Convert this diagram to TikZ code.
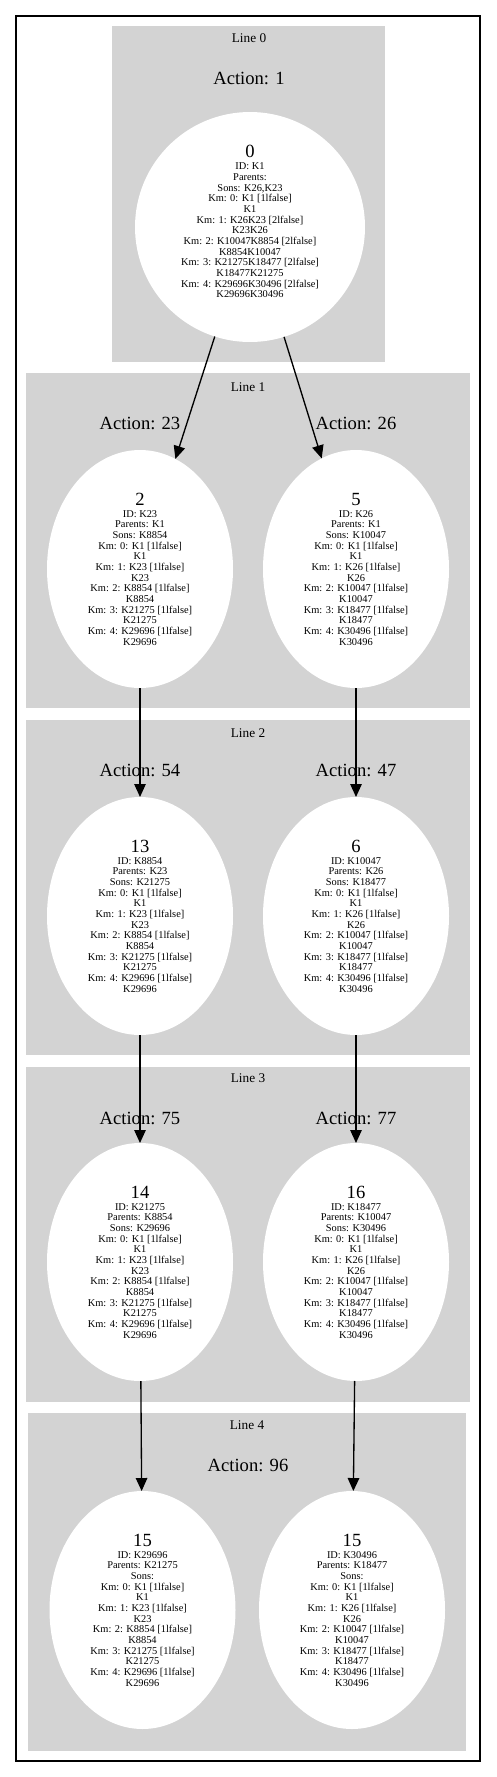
\documentclass[tikz,border=0pt]{standalone}
\usepackage{fontspec}
\setmainfont{Liberation Serif}
\usetikzlibrary{arrows.meta,shapes.geometric}
\definecolor{clustergray}{HTML}{D3D3D3}
\newcommand{\kmL}{Km: 0: K1 [1lfalse]\\K1\\Km: 1: K23 [1lfalse]\\K23\\Km: 2: K8854 [1lfalse]\\K8854\\Km: 3: K21275 [1lfalse]\\K21275\\Km: 4: K29696 [1lfalse]\\K29696}
\newcommand{\kmR}{Km: 0: K1 [1lfalse]\\K1\\Km: 1: K26 [1lfalse]\\K26\\Km: 2: K10047 [1lfalse]\\K10047\\Km: 3: K18477 [1lfalse]\\K18477\\Km: 4: K30496 [1lfalse]\\K30496}
\newcommand{\bignum}[1]{{\fontsize{18.6}{18.6}\selectfont #1}\\[1.3pt]}
\begin{document}
\begin{tikzpicture}[x=1pt,y=-1pt,
  cluster/.style={fill=clustergray,draw=none},
  linelabel/.style={font=\fontsize{13.3}{14}\selectfont,inner sep=0pt},
  action/.style={font=\fontsize{18.6}{20}\selectfont,inner sep=0pt},
  state/.style={ellipse,fill=white,draw=none,inner sep=0pt,outer sep=0pt,
    minimum width=186pt,minimum height=238pt,align=center,
    font=\fontsize{10.4}{10.67}\selectfont},
  rootstate/.style={circle,fill=white,draw=none,inner sep=0pt,outer sep=0pt,
    minimum size=230pt,align=center,font=\fontsize{10.4}{10.67}\selectfont},
  edge/.style={line width=1.33pt,-{Triangle[length=13pt,width=11.5pt]}}]
\useasboundingbox (0,0) rectangle (496,1777);
\draw[line width=1.3pt] (16,16) rectangle (480,1761);
% clusters
\fill[cluster] (112,26) rectangle (385,362);
\fill[cluster] (26,373) rectangle (470,708);
\fill[cluster] (26,720) rectangle (470,1055);
\fill[cluster] (26,1067) rectangle (470,1402);
\fill[cluster] (28,1413) rectangle (466,1751);
% cluster labels
\node[linelabel] (l0) at (249,38) {Line 0};
\node[linelabel] (l1) at (248,387) {Line 1};
\node[linelabel] (l2) at (248,733) {Line 2};
\node[linelabel] (l3) at (248,1078) {Line 3};
\node[linelabel] (l4) at (247,1425) {Line 4};
% action labels
\node[action] (a1) at (249,78) {Action: 1};
\node[action] (a23) at (140,423) {Action: 23};
\node[action] (a26) at (356,423) {Action: 26};
\node[action] (a54) at (140,770) {Action: 54};
\node[action] (a47) at (356,770) {Action: 47};
\node[action] (a75) at (140,1118) {Action: 75};
\node[action] (a77) at (356,1118) {Action: 77};
\node[action] (a96) at (248,1465) {Action: 96};
% states
\node[rootstate] (n0) at (250,227) {\bignum{0}ID: K1\\Parents:\\Sons: K26,K23\\Km: 0: K1 [1lfalse]\\K1\\Km: 1: K26K23 [2lfalse]\\K23K26\\Km: 2: K10047K8854 [2lfalse]\\K8854K10047\\Km: 3: K21275K18477 [2lfalse]\\K18477K21275\\Km: 4: K29696K30496 [2lfalse]\\K29696K30496\\\mbox{}};
\node[state] (n2) at (140,569) {\bignum{2}ID: K23\\Parents: K1\\Sons: K8854\\\kmL};
\node[state] (n5) at (356,569) {\bignum{5}ID: K26\\Parents: K1\\Sons: K10047\\\kmR};
\node[state] (n13) at (140,916) {\bignum{13}ID: K8854\\Parents: K23\\Sons: K21275\\\kmL};
\node[state] (n6) at (356,916) {\bignum{6}ID: K10047\\Parents: K26\\Sons: K18477\\\kmR};
\node[state] (n14) at (140,1262) {\bignum{14}ID: K21275\\Parents: K8854\\Sons: K29696\\\kmL};
\node[state] (n16) at (356,1262) {\bignum{16}ID: K18477\\Parents: K10047\\Sons: K30496\\\kmR};
\node[state] (n15a) at (142.5,1610) {\bignum{15}ID: K29696\\Parents: K21275\\Sons:\\\kmL};
\node[state] (n15b) at (352,1610) {\bignum{15}ID: K30496\\Parents: K18477\\Sons:\\\kmR};
% edges
\draw[edge] (n0) -- (n2);
\draw[edge] (n0) -- (n5);
\draw[edge] (n2) -- (n13);
\draw[edge] (n5) -- (n6);
\draw[edge] (n13) -- (n14);
\draw[edge] (n6) -- (n16);
\draw[edge] (n14) -- (n15a);
\draw[edge] (n16) -- (n15b);
\end{tikzpicture}
\end{document}
